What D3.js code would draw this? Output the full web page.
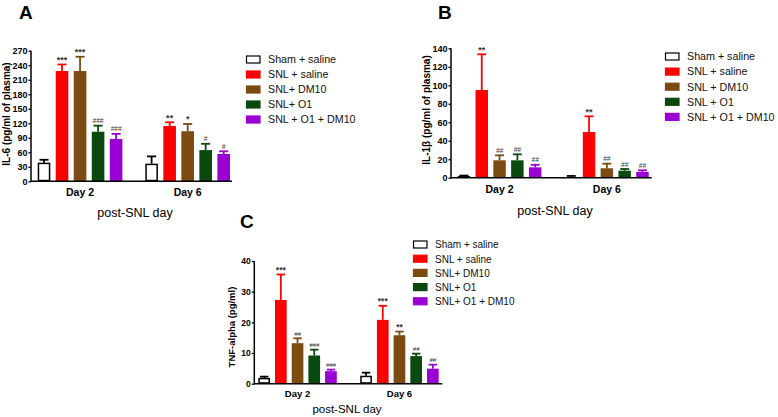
<!DOCTYPE html>
<html><head><meta charset="utf-8">
<script src="https://cdn.jsdelivr.net/npm/d3@7"></script>
<style>body{margin:0;background:#fff}svg{display:block}</style>
</head><body>
<svg id="c" width="778" height="417"></svg>
<script>
const days = ["Day 2", "Day 6"];
const seriesKeys = ["sham", "snl", "dm10", "o1", "o1dm10"];
const seriesColors = ["#ffffff", "#ff0000", "#7b4b12", "#0a4a0e", "#9b00d3"];
const legendA = ["Sham + saline", "SNL + saline", "SNL+ DM10", "SNL+ O1", "SNL + O1 + DM10"];
const legendB = ["Sham + saline", "SNL + saline", "SNL + DM10", "SNL + O1", "SNL + O1 + DM10"];
const legendC = ["Sham + saline", "SNL + saline", "SNL+ DM10", "SNL+ O1", "SNL+ O1 + DM10"];

const il6Mean = [[38.5, 228, 228, 102.5, 87.5], [36.5, 114.5, 103.5, 64.5, 56.5]];
const il6Sem  = [[6, 13.5, 29.5, 12.5, 10.5], [15, 7.5, 15, 13, 5.5]];
const il6Sig  = [["", "***", "***", "###", "###"], ["", "**", "*", "#", "#"]];
const il6Ticks = [0, 30, 60, 90, 120, 150, 180, 210, 240, 270];

const il1bMean = [[1.8, 94.9, 18.8, 18.8, 11.2], [1.5, 49.4, 10.2, 7.6, 6.2]];
const il1bSem  = [[0.5, 38.6, 5.4, 6.5, 2.8], [0.4, 17, 5, 1.8, 1.8]];
const il1bSig  = [["", "**", "##", "##", "##"], ["", "**", "##", "##", "##"]];
const il1bTicks = [0, 20, 40, 60, 80, 100, 120, 140];

const tnfMean = [[1.9, 27.3, 13.2, 9.2, 4.1], [2.6, 20.8, 15.8, 9.0, 4.9]];
const tnfSem  = [[0.4, 8.3, 1.6, 1.9, 0.5], [1.0, 4.6, 1.2, 0.8, 1.3]];
const tnfSig  = [["", "***", "##", "###", "###"], ["", "***", "**", "##", "##"]];
const tnfTicks = [0, 10, 20, 30, 40];

const svg = d3.select("#c");
const FONT = "Liberation Sans, Arial, Helvetica, sans-serif";

function panel(o) {
  const g = svg.append("g");
  const y = d3.scaleLinear().domain([0, o.ymax]).range([o.y0, o.y1]);
  const x0 = d3.scaleBand().domain(days).range([o.gx0, o.gx1]).paddingInner(o.gpad).paddingOuter(0);
  const x1 = d3.scaleBand().domain(seriesKeys).range([0, x0.bandwidth()]).paddingInner(0.3).paddingOuter(0);

  days.forEach((d, di) => {
    const gg = g.append("g").attr("transform", `translate(${x0(d)},0)`);
    const rows = seriesKeys.map((k, si) => ({k, si, m: o.mean[di][si], s: o.sem[di][si], lab: o.sig[di][si]}));
    rows.forEach(r => {
      const cx = x1(r.k) + x1.bandwidth() / 2;
      const col = r.si === 0 ? "#000" : seriesColors[r.si];
      const cw = x1.bandwidth() * 0.36;
      gg.append("line").attr("x1", cx).attr("x2", cx).attr("y1", y(r.m)).attr("y2", y(r.m + r.s))
        .attr("stroke", col).attr("stroke-width", 1.8);
      gg.append("line").attr("x1", cx - cw).attr("x2", cx + cw).attr("y1", y(r.m + r.s)).attr("y2", y(r.m + r.s))
        .attr("stroke", col).attr("stroke-width", 1.8);
      if (r.lab) {
        const star = r.lab[0] === "*";
        gg.append("text").attr("x", cx).attr("y", y(r.m + r.s) - (star ? 1.5 : 2.5))
          .attr("text-anchor", "middle").attr("font-family", FONT)
          .attr("font-size", star ? o.sigSize + 1.5 : o.sigSize - 1)
          .attr("font-weight", star ? "bold" : "normal")
          .attr("font-style", star ? "normal" : "italic")
          .attr("fill", "#333").text(r.lab);
      }
    });
    gg.selectAll("rect").data(rows).enter().append("rect")
      .attr("x", r => x1(r.k) + (r.si === 0 ? 0.75 : 0))
      .attr("y", r => y(r.m) + (r.si === 0 ? 0.75 : 0))
      .attr("width", r => x1.bandwidth() - (r.si === 0 ? 1.5 : 0))
      .attr("height", r => Math.max(0, o.y0 - y(r.m) - (r.si === 0 ? 1.5 : 0)))
      .attr("fill", r => seriesColors[r.si])
      .attr("stroke", r => r.si === 0 ? "#000" : "none")
      .attr("stroke-width", 1.5);
  });

  const ya = g.append("g").attr("transform", `translate(${o.ax0},0)`)
    .call(d3.axisLeft(y).tickValues(o.ticks).tickSize(2.5).tickPadding(1));
  ya.select(".domain").remove();
  ya.selectAll(".tick line").attr("stroke", "#000").attr("stroke-width", 1.3);
  ya.selectAll(".tick text").attr("font-family", FONT).attr("font-weight", "bold")
    .attr("font-size", o.tickSize).attr("fill", "#000");
  g.append("line").attr("x1", o.ax0).attr("x2", o.ax0).attr("y1", o.y0 + 0.7).attr("y2", o.y1)
    .attr("stroke", "#000").attr("stroke-width", 1.5);
  g.append("line").attr("x1", o.ax0).attr("x2", o.ax1).attr("y1", o.y0).attr("y2", o.y0)
    .attr("stroke", "#000").attr("stroke-width", 1.5);

  days.forEach(d => {
    g.append("text").attr("x", x0(d) + x0.bandwidth() / 2).attr("y", o.dayY)
      .attr("text-anchor", "middle").attr("font-family", FONT).attr("font-weight", "bold")
      .attr("font-size", o.daySize).text(d);
  });
  g.append("text").attr("x", o.xtX).attr("y", o.xtY).attr("text-anchor", "middle")
    .attr("font-family", FONT).attr("font-size", o.xtSize).text("post-SNL day");
  g.append("text").attr("transform", `translate(${o.ytX},${o.ytY}) rotate(-90)`)
    .attr("text-anchor", "middle").attr("font-family", FONT).attr("font-weight", "bold")
    .attr("font-size", o.ytSize).text(o.ytitle);
  g.append("text").attr("x", o.pX).attr("y", o.pY).attr("font-family", FONT)
    .attr("font-weight", "bold").attr("font-size", 19).text(o.plabel);

  o.legend.forEach((t, i) => {
    const ly = o.lgY + i * o.lgStep;
    g.append("rect").attr("x", o.lgX + 0.5).attr("y", ly - 3.5).attr("width", 13.5).attr("height", 7)
      .attr("fill", seriesColors[i]).attr("stroke", i === 0 ? "#000" : seriesColors[i]).attr("stroke-width", 1.2);
    g.append("text").attr("x", o.lgX + 22).attr("y", ly + 3.8).attr("font-family", FONT)
      .attr("font-size", o.lgSize).attr("fill", "#111").text(t);
  });
}

panel({plabel: "A", pX: 19, pY: 18.5, ymax: 270, y0: 181.3, y1: 50.7, ticks: il6Ticks,
  gx0: 37.7, gx1: 230, gpad: 0.213, ax0: 31, ax1: 232,
  mean: il6Mean, sem: il6Sem, sig: il6Sig, sigSize: 7.5, tickSize: 9,
  dayY: 196, daySize: 10.5, xtX: 135, xtY: 217, xtSize: 12.5,
  ytitle: "IL-6 (pg/ml of plasma)", ytX: 10, ytY: 114, ytSize: 10,
  legend: legendA, lgX: 246, lgY: 59.5, lgStep: 15, lgSize: 10.7});

panel({plabel: "B", pX: 438, pY: 18.5, ymax: 140, y0: 177.7, y1: 48.3, ticks: il1bTicks,
  gx0: 457.7, gx1: 648.7, gpad: 0.22, ax0: 451, ax1: 651.7,
  mean: il1bMean, sem: il1bSem, sig: il1bSig, sigSize: 7.5, tickSize: 9,
  dayY: 192.5, daySize: 10.5, xtX: 555, xtY: 215, xtSize: 12.5,
  ytitle: "IL-1\u03b2 (pg/ml of plasma)", ytX: 429.5, ytY: 110, ytSize: 10,
  legend: legendB, lgX: 665, lgY: 56.5, lgStep: 15.1, lgSize: 10.7});

panel({plabel: "C", pX: 240, pY: 228, ymax: 40, y0: 383.7, y1: 261, ticks: tnfTicks,
  gx0: 258.3, gx1: 438.7, gpad: 0.23, ax0: 254.3, ax1: 442.3,
  mean: tnfMean, sem: tnfSem, sig: tnfSig, sigSize: 7, tickSize: 8.5,
  dayY: 397, daySize: 9.5, xtX: 347, xtY: 413, xtSize: 11.5,
  ytitle: "TNF-alpha (pg/ml)", ytX: 235, ytY: 327, ytSize: 9.5,
  legend: legendC, lgX: 413, lgY: 244.5, lgStep: 14.2, lgSize: 10});
</script>
</body></html>
